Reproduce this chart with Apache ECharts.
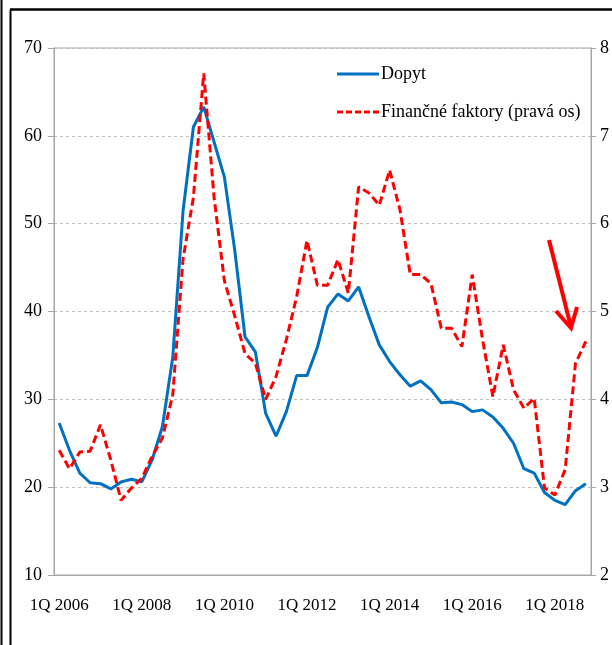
<!DOCTYPE html>
<html>
<head>
<meta charset="utf-8">
<script src="https://cdn.jsdelivr.net/npm/echarts@6/dist/echarts.min.js"></script>
<style>
  html, body { margin: 0; padding: 0; background: #fff; }
  #chart { width: 612px; height: 645px; }
</style>
</head>
<body>
<div id="chart"></div>
<script>
// quarters 1Q 2006 .. 4Q 2018
const categories = [];
for (let y = 2006; y <= 2018; y++) {
  for (let q = 1; q <= 4; q++) categories.push(q + "Q " + y);
}

// Dopyt (left axis)
const dopyt = [
  27.3, 24.2, 21.6, 20.5, 20.4, 19.8, 20.6, 20.9, 20.6, 23.1, 26.9, 34.8,
  51.5, 61.0, 63.3, 59.3, 55.3, 47.0, 37.1, 35.4, 28.4, 25.8, 28.6, 32.7,
  32.7, 35.9, 40.5, 42.0, 41.2, 42.8, 39.4, 36.2, 34.3, 32.8, 31.5, 32.1,
  31.1, 29.6, 29.7, 29.4, 28.6, 28.8, 28.0, 26.7, 25.0, 22.1, 21.6, 19.4,
  18.5, 18.0, 19.6, 20.4
];

// Finančné faktory (right axis)
const financne = [
  3.42, 3.21, 3.40, 3.41, 3.71, 3.31, 2.85, 2.99, 3.10, 3.35, 3.56, 4.05,
  5.60, 6.30, 7.71, 6.30, 5.35, 4.95, 4.52, 4.41, 4.00, 4.26, 4.68, 5.17,
  5.81, 5.30, 5.30, 5.59, 5.21, 6.42, 6.35, 6.21, 6.61, 6.16, 5.42, 5.42,
  5.32, 4.81, 4.81, 4.60, 5.42, 4.68, 4.03, 4.62, 4.11, 3.90, 4.01, 2.99,
  2.91, 3.20, 4.41, 4.66
];

const seriesNames = ["Dopyt", "Finančné faktory (pravá os)"];

const font = "'Liberation Serif', 'Times New Roman', serif";
const axisGray = "#A6A6A6";
// legend icons: solid bar and five dashes
const solidIcon = "path://M0,0h42v3h-42z";
const dashIcon = "path://M0,0h6v3h-6z M9,0h6v3h-6z M18,0h6v3h-6z M27,0h6v3h-6z M36,0h6v3h-6z";

const chart = echarts.init(document.getElementById("chart"));

const option = {
  backgroundColor: "#fff",
  animation: false,
  grid: {
    left: 54,
    right: 19,
    top: 48,
    bottom: 70,
    containLabel: false,
    show: true,
    borderColor: axisGray,
    borderWidth: 1,
  },
  legend: {
    orient: "vertical",
    left: 337,
    top: 65,
    padding: 0,
    itemWidth: 42,
    itemHeight: 3,
    itemGap: 20,
    textStyle: { fontFamily: font, fontSize: 18, color: "#000", padding: [0, 0, 0, -3] },
    data: [
      { name: seriesNames[0], icon: solidIcon },
      { name: seriesNames[1], icon: dashIcon },
    ],
  },
  xAxis: {
    type: "category",
    data: categories,
    boundaryGap: true,
    axisLine: { lineStyle: { color: axisGray, width: 1 } },
    axisTick: { interval: 0, length: 7, lineStyle: { color: axisGray } },
    axisLabel: {
      interval: 7,
      margin: 22,
      fontFamily: font,
      fontSize: 17,
      color: "#000",
    },
    splitLine: { show: false },
  },
  yAxis: [
    {
      type: "value",
      min: 10,
      max: 70,
      interval: 10,
      axisLine: { show: true, lineStyle: { color: axisGray } },
      axisTick: { show: true, length: 6, lineStyle: { color: axisGray } },
      axisLabel: { margin: 12, fontFamily: font, fontSize: 18, color: "#000" },
      splitLine: {
        show: true,
        lineStyle: { color: "#BFBFBF", type: [3, 3], width: 1 },
      },
    },
    {
      type: "value",
      min: 2,
      max: 8,
      interval: 1,
      position: "right",
      axisLine: { show: true, lineStyle: { color: axisGray } },
      axisTick: { show: true, length: 5, lineStyle: { color: axisGray } },
      axisLabel: { margin: 9, fontFamily: font, fontSize: 18, color: "#000" },
      splitLine: { show: false },
    },
  ],
  series: [
    {
      name: seriesNames[0],
      type: "line",
      yAxisIndex: 0,
      data: dopyt,
      symbol: "none",
      smooth: false,
      lineStyle: { color: "#0070C0", width: 3 },
      itemStyle: { color: "#0070C0" },
      z: 3,
    },
    {
      name: seriesNames[1],
      type: "line",
      yAxisIndex: 1,
      data: financne,
      symbol: "none",
      smooth: false,
      lineStyle: { color: "#FF0000", width: 3, type: [8, 4] },
      itemStyle: { color: "#FF0000" },
      z: 4,
    },
  ],
  graphic: [
    // outer frame lines
    { type: "line", shape: { x1: 1.5, y1: 0, x2: 1.5, y2: 645 }, style: { stroke: "#000", lineWidth: 2 } },
    { type: "line", shape: { x1: 10.5, y1: 9.5, x2: 10.5, y2: 645 }, style: { stroke: "#000", lineWidth: 2 } },
    { type: "line", shape: { x1: 10, y1: 9.5, x2: 612, y2: 9.5 }, style: { stroke: "#000", lineWidth: 2.5 } },
    // red arrow annotation
    {
      type: "polyline",
      shape: { points: [[549, 240], [571, 327]] },
      style: { stroke: "#FF0000", lineWidth: 4, fill: null },
      z: 10,
    },
    {
      type: "polyline",
      shape: { points: [[556, 311], [571, 328], [577, 307]] },
      style: { stroke: "#FF0000", lineWidth: 4, fill: null, lineJoin: "miter" },
      z: 10,
    },
  ],
};

chart.setOption(option);
</script>
</body>
</html>
